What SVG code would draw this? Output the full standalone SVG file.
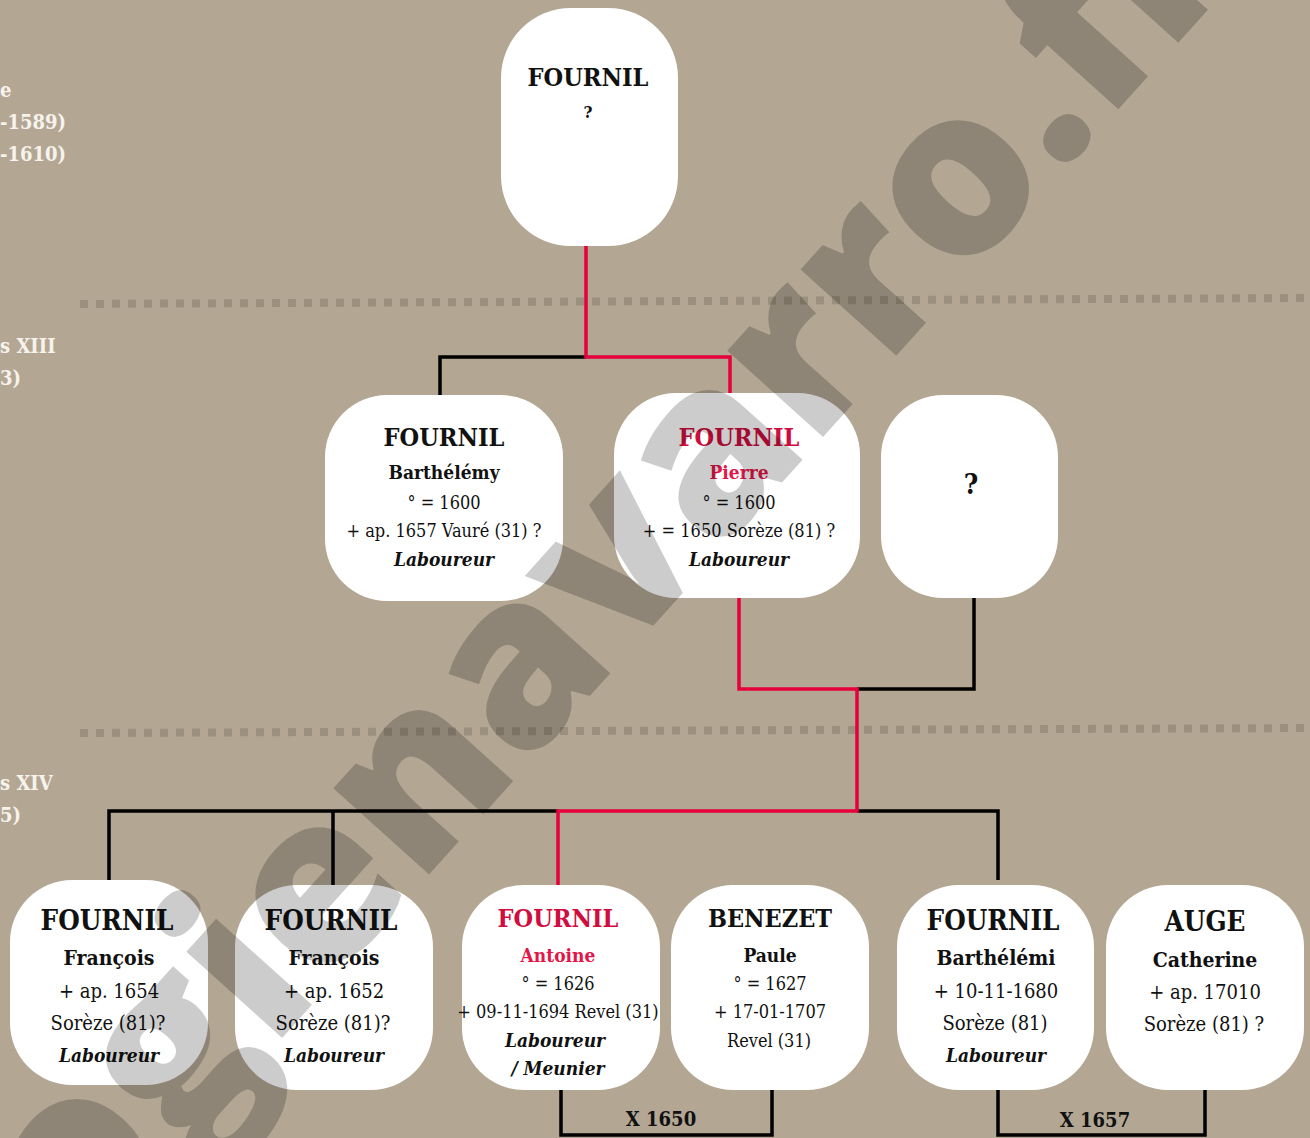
<svg xmlns="http://www.w3.org/2000/svg" width="1310" height="1138" viewBox="0 0 1310 1138">
<style>
text{font-family:"DejaVu Serif","Liberation Serif",serif;font-stretch:condensed;text-anchor:middle;fill:#111}
.node rect{fill:#fff}
.s{font-weight:bold;font-size:25px}
.sb{font-weight:bold;font-size:27.5px}
.g{font-weight:bold;font-size:19px}
.gb{font-weight:bold;font-size:21px}
.r{font-size:18px}
.rb{font-size:20px}
.j{font-weight:bold;font-style:italic;font-size:19px}
.red{fill:#cf0d3e}
.red2{fill:#e3164a}
.lbl{font-weight:bold;font-size:20px;fill:#f7f3ec;text-anchor:start}
.blk{fill:none;stroke:#000;stroke-width:3.5}
.rd{fill:none;stroke:#e6003c;stroke-width:3.5}
.dash{stroke:#9b907e;stroke-width:8;stroke-dasharray:8 8}
.x{font-weight:bold;font-size:20px}
.wm{font-family:"Open Sans","DejaVu Sans",sans-serif;font-stretch:normal;font-weight:800;font-size:233px;fill:#000;fill-opacity:0.2;text-anchor:end}
</style>
<rect width="1310" height="1138" fill="#b3a794"/>
<g id="era-lines">
<line class="dash" x1="80" y1="304" x2="1310" y2="298"/>
<line class="dash" x1="80" y1="733" x2="1310" y2="728"/>
</g>
<g id="era-labels">
<text class="lbl" x="0" y="97">e</text>
<text class="lbl" x="0" y="129">-1589)</text>
<text class="lbl" x="0" y="161">-1610)</text>
<text class="lbl" x="0" y="353">s XIII</text>
<text class="lbl" x="0" y="385">3)</text>
<text class="lbl" x="0" y="790">s XIV</text>
<text class="lbl" x="0" y="822">5)</text>
</g>
<g id="connectors">
<path class="blk" d="M440,395 V357 H586"/>
<path class="blk" d="M974,598 V689 H857"/>
<path class="blk" d="M109,880 V811 H558"/>
<path class="blk" d="M333,811 V885"/>
<path class="blk" d="M857,811 H998 V880"/>
<path class="blk" d="M561,1090 V1135 H772 V1090"/>
<path class="blk" d="M998,1090 V1135 H1205 V1090"/>
<path class="rd" d="M586,246 V357 H730 V393"/>
<path class="rd" d="M739,598 V689 H857 V811 H558 V885"/>
<text class="x" x="661" y="1126">X 1650</text>
<text class="x" x="1095" y="1127">X 1657</text>
</g>
<g id="n-top" class="node">
<rect x="501" y="8" width="177" height="238" rx="70"/>
<text class="s" x="588" y="86">FOURNIL</text>
<text class="g" x="588" y="118" style="font-size:17px">?</text>
</g>
<g id="n-barthelemy" class="node">
<rect x="325" y="395" width="238" height="206" rx="62"/>
<text class="s" x="444" y="446">FOURNIL</text>
<text class="g" x="444" y="479">Barthélémy</text>
<text class="r" x="444" y="509">° = 1600</text>
<text class="r" x="444" y="537">+ ap. 1657 Vauré (31) ?</text>
<text class="j" x="444" y="566">Laboureur</text>
</g>
<g id="n-pierre" class="node">
<rect x="614" y="393" width="246" height="205" rx="62"/>
<text class="s red" x="739" y="446">FOURNIL</text>
<text class="g red2" x="739" y="479">Pierre</text>
<text class="r" x="739" y="509">° = 1600</text>
<text class="r" x="739" y="537">+ = 1650 Sorèze (81) ?</text>
<text class="j" x="739" y="566">Laboureur</text>
</g>
<g id="n-unknown" class="node">
<rect x="881" y="395" width="177" height="203" rx="62"/>
<text class="sb" x="971" y="494">?</text>
</g>
<g id="n-francois1" class="node">
<rect x="10" y="880" width="198" height="205" rx="62"/>
<text class="sb" x="107" y="930">FOURNIL</text>
<text class="gb" x="109" y="965">François</text>
<text class="rb" x="109" y="998">+ ap. 1654</text>
<text class="rb" x="108" y="1030">Sorèze (81)?</text>
<text class="j" x="109" y="1062">Laboureur</text>
</g>
<g id="n-francois2" class="node">
<rect x="235" y="885" width="198" height="205" rx="62"/>
<text class="sb" x="331" y="930">FOURNIL</text>
<text class="gb" x="334" y="965">François</text>
<text class="rb" x="334" y="998">+ ap. 1652</text>
<text class="rb" x="333" y="1030">Sorèze (81)?</text>
<text class="j" x="334" y="1062">Laboureur</text>
</g>
<g id="n-antoine" class="node">
<rect x="462" y="885" width="198" height="205" rx="62"/>
<text class="s red" x="558" y="927">FOURNIL</text>
<text class="g red2" x="558" y="962">Antoine</text>
<text class="r" x="558" y="990">° = 1626</text>
<text class="r" x="558" y="1018">+ 09-11-1694 Revel (31)</text>
<text class="j" x="555" y="1047">Laboureur</text>
<text class="j" x="558" y="1075">/ Meunier</text>
</g>
<g id="n-benezet" class="node">
<rect x="671" y="885" width="198" height="205" rx="62"/>
<text class="s" x="770" y="927">BENEZET</text>
<text class="g" x="770" y="962">Paule</text>
<text class="r" x="770" y="990">° = 1627</text>
<text class="r" x="770" y="1018">+ 17-01-1707</text>
<text class="r" x="769" y="1047">Revel (31)</text>
</g>
<g id="n-barthelemi" class="node">
<rect x="897" y="885" width="197" height="205" rx="62"/>
<text class="sb" x="993" y="930">FOURNIL</text>
<text class="gb" x="996" y="965">Barthélémi</text>
<text class="rb" x="996" y="998">+ 10-11-1680</text>
<text class="rb" x="995" y="1030">Sorèze (81)</text>
<text class="j" x="996" y="1062">Laboureur</text>
</g>
<g id="n-auge" class="node">
<rect x="1106" y="885" width="198" height="205" rx="62"/>
<text class="sb" x="1205" y="931">AUGE</text>
<text class="gb" x="1205" y="967">Catherine</text>
<text class="rb" x="1205" y="999">+ ap. 17010</text>
<text class="rb" x="1204" y="1031">Sorèze (81) ?</text>
</g>
<g id="watermark">
<text class="wm" transform="translate(1065,140) rotate(-48) translate(242,19)">genealogienavarro.fr</text>
</g>
</svg>
